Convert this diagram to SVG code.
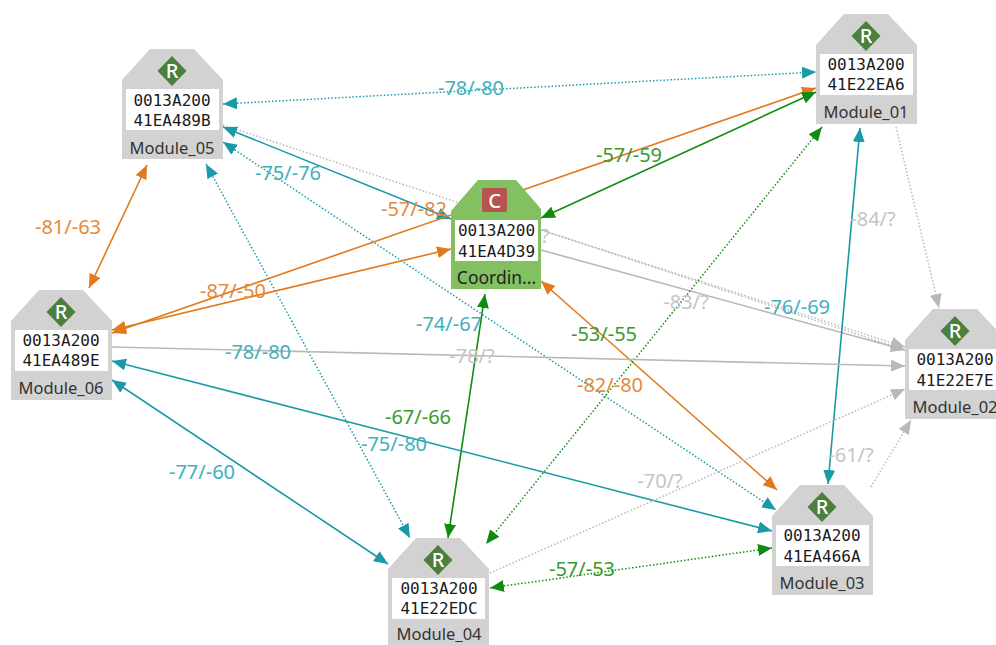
<svg xmlns="http://www.w3.org/2000/svg" width="996" height="645" viewBox="0 0 996 645">
<style>
text{font-family:"Noto Sans","Open Sans",sans-serif}
.lbl{font-size:20px;text-anchor:middle}
.id{font-family:"DejaVu Sans Mono","Liberation Mono",monospace;font-size:16px;text-anchor:middle;fill:#1a1a1a}
.nm{font-size:16.500px;text-anchor:middle;fill:#333}
.bd{fill:#d2d2d2}
.icon{font-family:"Noto Sans",sans-serif;font-size:20px;font-weight:500;fill:#fff;text-anchor:middle}
line{fill:none;stroke-width:1.600}
.d{stroke-width:1.500;stroke-dasharray:1.500 2}
.ta{stroke:#1a9aa8;marker-start:url(#mt);marker-end:url(#mt)}
.oa{stroke:#e07a1c;marker-start:url(#mo);marker-end:url(#mo)}
.ga{stroke:#118a11;marker-start:url(#mg);marker-end:url(#mg)}
.ya{stroke:#b8b8b8;marker-end:url(#my)}
.lt{fill:#3fb0bc}.lo{fill:#e58a3a}.lg{fill:#3a9a2e}.ly{fill:#c4c4c4}
</style>
<defs>
<marker id="mt" markerUnits="userSpaceOnUse" markerWidth="15" markerHeight="12" refX="14" refY="6" orient="auto-start-reverse"><path d="M0 0L14 6L0 12Z" fill="#1a9aa8"/></marker>
<marker id="mo" markerUnits="userSpaceOnUse" markerWidth="15" markerHeight="12" refX="14" refY="6" orient="auto-start-reverse"><path d="M0 0L14 6L0 12Z" fill="#e07a1c"/></marker>
<marker id="mg" markerUnits="userSpaceOnUse" markerWidth="15" markerHeight="12" refX="14" refY="6" orient="auto-start-reverse"><path d="M0 0L14 6L0 12Z" fill="#118a11"/></marker>
<marker id="my" markerUnits="userSpaceOnUse" markerWidth="15" markerHeight="12" refX="14" refY="6" orient="auto"><path d="M0 0L14 6L0 12Z" fill="#b8b8b8"/></marker>
<g id="router"><path class="bd" d="M0 31L28 0H72L101 31V110H0Z"/><rect x="4" y="40" width="93" height="41" fill="#fff"/><path d="M50 7L64.500 22L50 37L35.500 22Z" fill="#4a7f3e"/><text class="icon" x="50" y="29">R</text></g>
</defs>
<g id="connectors">
<line class="ta d" x1="223" y1="104" x2="816" y2="72"/>
<line class="ya d" x1="223" y1="125" x2="905" y2="350"/>
<line class="ta" x1="223" y1="127" x2="451" y2="219"/>
<line class="ta d" x1="223" y1="142" x2="776" y2="510"/>
<line class="ta d" x1="206" y1="164" x2="410" y2="538"/>
<line class="oa" x1="147" y1="165" x2="89" y2="288"/>
<line class="oa" x1="816" y1="88" x2="112" y2="333"/>
<line class="oa" x1="451" y1="249" x2="112" y2="330"/>
<line class="ga" x1="816" y1="92" x2="541" y2="218"/>
<line class="ya" x1="541" y1="250" x2="905" y2="350"/>
<line class="ya d" x1="541" y1="230" x2="905" y2="347"/>
<line class="oa" x1="541" y1="281" x2="777" y2="490"/>
<line class="ga" x1="485" y1="294" x2="448" y2="538"/>
<line class="ga d" x1="822" y1="127" x2="486" y2="544"/>
<line class="ta" x1="860" y1="128" x2="828" y2="484"/>
<line class="ya d" x1="896" y1="127" x2="939" y2="308"/>
<line class="ya" x1="112" y1="347" x2="905" y2="366"/>
<line class="ta" x1="112" y1="361" x2="772" y2="531"/>
<line class="ta" x1="112" y1="380" x2="388" y2="564"/>
<line class="ya d" x1="490" y1="573" x2="905" y2="389"/>
<line class="ya d" x1="871" y1="487" x2="911" y2="420"/>
<line class="ga d" x1="490" y1="588" x2="772" y2="548"/>
</g>
<g id="labels">
<text class="lbl lt" x="471" y="95">-78/-80</text>
<text class="lbl lt" x="288" y="180">-75/-76</text>
<text class="lbl lo" x="68" y="234">-81/-63</text>
<text class="lbl lo" x="414" y="216">-57/-82</text>
<text class="lbl lg" x="629" y="162">-57/-59</text>
<text class="lbl lo" x="233" y="298">-87/-50</text>
<text class="lbl lt" x="258" y="359">-78/-80</text>
<text class="lbl ly" x="472" y="363">-78/?</text>
<text class="lbl lt" x="449" y="331">-74/-67</text>
<text class="lbl lg" x="604" y="341">-53/-55</text>
<text class="lbl ly" x="686" y="309">-83/?</text>
<text class="lbl lt" x="797" y="314">-76/-69</text>
<text class="lbl ly" x="873" y="226">-84/?</text>
<text class="lbl lo" x="610" y="392">-82/-80</text>
<text class="lbl lg" x="418" y="424">-67/-66</text>
<text class="lbl lt" x="394" y="451">-75/-80</text>
<text class="lbl lt" x="202" y="479">-77/-60</text>
<text class="lbl ly" x="660" y="488">-70/?</text>
<text class="lbl ly" x="851" y="462">-61/?</text>
<text class="lbl lg" x="582" y="576">-57/-53</text>
<text class="lbl ly" x="545" y="243">?</text>
</g>
<g id="n05" transform="translate(122 49)"><use href="#router"/><text class="id" x="50" y="57">0013A200</text><text class="id" x="50" y="77">41EA489B</text><text class="nm" x="50" y="105">Module_05</text></g>
<g id="n01" transform="translate(816 14)"><use href="#router"/><text class="id" x="50" y="56">0013A200</text><text class="id" x="50" y="76">41E22EA6</text><text class="nm" x="50" y="104">Module_01</text></g>
<g id="n06" transform="translate(11 290)"><use href="#router"/><text class="id" x="50" y="56">0013A200</text><text class="id" x="50" y="76">41EA489E</text><text class="nm" x="50" y="104">Module_06</text></g>
<g id="n02" transform="translate(905 309)"><use href="#router"/><text class="id" x="50" y="56">0013A200</text><text class="id" x="50" y="77">41E22E7E</text><text class="nm" x="50" y="104">Module_02</text></g>
<g id="n03" transform="translate(772 485)"><use href="#router"/><text class="id" x="50" y="56">0013A200</text><text class="id" x="50" y="77">41EA466A</text><text class="nm" x="50" y="104">Module_03</text></g>
<g id="n04" transform="translate(388 538)"><use href="#router"/><text class="id" x="51" y="56">0013A200</text><text class="id" x="51" y="76">41E22EDC</text><text class="nm" x="51" y="102">Module_04</text></g>
<g id="coord" transform="translate(451 180)"><path d="M0 31L27 0H65L90 29V109H0Z" fill="#82c062"/><rect x="4" y="40" width="83" height="41" fill="#fff"/><rect x="31" y="8" width="25" height="24" rx="2" fill="#b85450"/><text class="icon" x="43.500" y="27.500">C</text><text class="id" x="45.500" y="56">0013A200</text><text class="id" x="45.500" y="77">41EA4D39</text><text class="nm" x="45.500" y="104" style="font-size:17.500px;fill:#222">Coordin...</text></g>
</svg>
